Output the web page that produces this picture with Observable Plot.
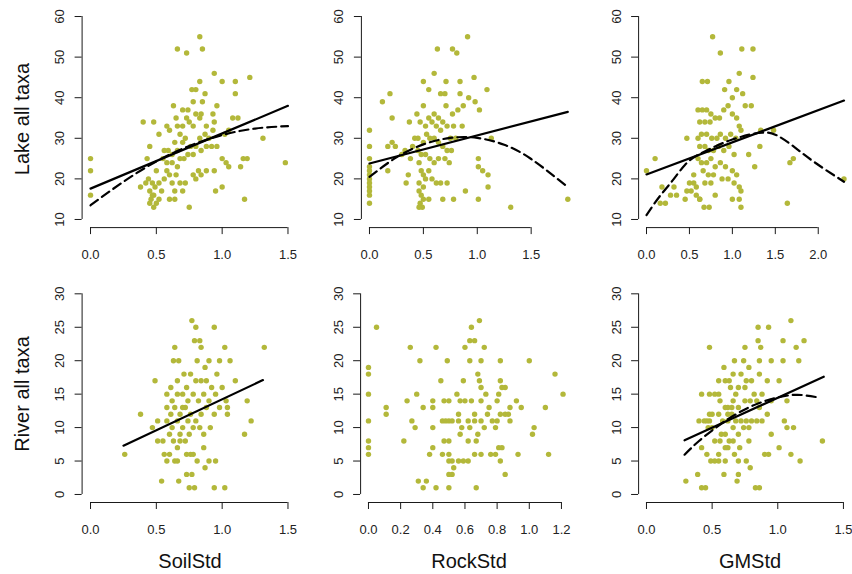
<!DOCTYPE html>
<html><head><meta charset="utf-8">
<script src="https://cdn.jsdelivr.net/npm/d3@7"></script>
<script src="https://cdn.jsdelivr.net/npm/@observablehq/plot@0.6"></script>
<style>
body{margin:0;background:#fff;}
#wrap{position:relative;width:852px;height:574px;overflow:hidden;font-family:"Liberation Sans",Arial,sans-serif;background:#fff;}
#wrap svg{position:absolute;left:0;top:0;}
.lab{position:absolute;font-size:20px;line-height:20px;color:#111;white-space:nowrap;}
</style></head><body><div id="wrap"></div>
<script>
// ---------- data ----------
const rowTitles = ["Lake all taxa", "River all taxa"];
const colTitles = ["SoilStd", "RockStd", "GMStd"];

const lakeYTicks = [10, 20, 30, 40, 50, 60];
const riverYTicks = [0, 5, 10, 15, 20, 25, 30];
const soilXTicks = [0, 0.5, 1.0, 1.5];
const rockLakeXTicks = [0, 0.5, 1.0, 1.5];
const gmLakeXTicks = [0, 0.5, 1.0, 1.5, 2.0];
const rockRiverXTicks = [0, 0.2, 0.4, 0.6, 0.8, 1.0, 1.2];
const gmRiverXTicks = [0, 0.5, 1.0, 1.5];

const soilLake = [[0,25],[0,22],[0,16],[0.83,55],[0.66,52],[0.73,51],[0.85,52],
[0.94,46],[1.0,44],[1.10,44],[1.21,45],[0.83,44],[0.77,42],[0.80,42],[0.87,41],[1.10,41],
[0.78,39],[0.85,39],[0.63,38],[0.96,38],[0.70,37],[0.74,37],[0.80,36],[0.84,36],[0.93,36],
[0.40,34],[0.48,34],[0.65,35],[0.73,35],[0.83,35],[1.08,35],[1.12,35],
[0.58,33],[0.66,33],[0.70,33],[0.75,34],[0.78,33],[0.94,34],[0.88,33],
[0.52,31],[0.60,32],[0.68,31],[0.87,31],[0.90,30],[0.93,32],[1.02,31],[1.05,32],[1.31,30],
[0.45,28],[0.56,27],[0.59,27],[0.64,29],[0.70,29],[0.72,30],[0.76,28],[0.80,28],[0.88,28],[0.92,28],[0.96,28],[0.83,30],
[0.62,26],[0.66,27],[0.74,26],[0.71,25],[0.78,26],[0.84,27],[1.48,24],
[0.43,25],[0.58,24],[0.62,24],[0.66,23],[0.68,25],[0.55,25],[0.50,22],
[1.0,25],[1.03,24],[1.05,23],[1.16,25],[1.19,25],[1.14,23],[0.94,22],
[0.42,19],[0.47,19],[0.49,18],[0.52,19],[0.56,20],[0.60,21],[0.62,19],[0.68,19],[0.72,19],[0.70,17],[0.80,20],[0.82,22],[0.84,21],[0.78,21],[0.88,22],
[0.38,18],[0.45,17],[0.47,16],[0.54,17],[0.64,17],[0.95,17],[1.0,18],
[0.45,14],[0.48,13],[0.50,14],[0.46,15],[0.52,15],[0.48,16],[0.60,15],[0.64,15],[0.75,13],[1.17,15],
[0.44,20],[0.58,22],[0.65,21]];

const rockLake = [[0,32],[0,28],[0,25],[0,23],[0,21],[0,19],[0,18],[0,17],[0,16],[0,14],[0,22],[0,20],
[0.12,39],[0.19,41],[0.21,35],[0.17,28],[0.21,29],[0.17,22],[0.24,28],
[0.33,27],[0.37,34],[0.44,36],[0.36,21],[0.34,19],[0.30,26],[0.40,28],[0.42,30],[0.38,25],
[0.50,44],[0.55,42],[0.60,46],[0.63,52],[0.77,52],[0.81,51],[0.91,55],
[0.71,44],[0.84,44],[0.97,45],[1.09,42],[0.98,39],[1.02,37],
[0.66,41],[0.70,41],[0.84,41],[0.87,38],[0.92,40],[0.77,36],[0.82,37],[0.86,33],[0.71,38],
[0.50,38],[0.47,34],[0.52,33],[0.55,35],[0.58,34],[0.60,36],[0.62,33],[0.64,35],[0.66,32],[0.68,34],[0.72,33],[0.75,30],[0.78,33],
[0.45,30],[0.50,29],[0.53,31],[0.56,30],[0.60,30],[0.64,29],[0.68,28],[0.72,27],[0.76,27],[0.80,30],
[0.45,27],[0.48,26],[0.52,26],[0.56,25],[0.60,24],[0.64,25],[0.70,25],[0.74,24],
[0.46,24],[0.48,22],[0.50,21],[0.52,20],[0.55,22],[0.58,20],[0.62,19],[0.66,19],[0.72,19],[0.46,19],
[0.46,17],[0.48,16],[0.50,15],[0.47,14],[0.49,13],[0.46,13],[0.50,18],[0.55,15],[0.68,15],[0.78,15],[0.89,17],
[1.13,30],[1.01,25],[1.01,23],[1.05,22],[1.10,21],[1.10,18],[1.01,15],[1.31,13],[1.84,15]];

const gmLake = [[0,22],[0.10,25],[0.18,18],[0.16,14],[0.22,14],[0.28,16],[0.35,16],[0.32,18],[0.45,15],[0.47,17],[0.50,19],[0.55,19],[0.55,21],[0.52,17],[0.58,18],[0.58,16],[0.62,15],[0.47,30],
[0.65,44],[0.71,44],[0.77,55],[0.86,51],[1.11,52],[1.24,52],[1.08,46],[1.24,45],[0.91,42],[0.96,44],[1.0,40],[1.12,41],[1.15,38],[1.22,38],[1.05,42],
[0.60,37],[0.65,37],[0.70,37],[0.75,36],[0.62,34],[0.68,34],[0.74,34],[0.80,35],[0.85,35],[0.90,37],[0.95,38],[1.0,36],[1.05,35],[1.08,33],[1.10,32],
[0.60,30],[0.64,31],[0.70,31],[0.76,30],[0.82,30],[0.86,31],[0.92,30],[0.98,31],[1.04,30],
[0.62,28],[0.68,28],[0.72,27],[0.78,27],[0.84,28],[0.90,27],[0.96,28],[1.02,26],[1.33,32],[1.32,28],[1.19,26],[1.26,23],[1.48,32],
[0.60,25],[0.64,24],[0.70,24],[0.75,25],[0.80,23],[0.86,24],[0.92,23],[1.0,22],[1.05,21],[0.66,22],[0.72,21],[0.78,21],[0.88,20],[0.95,20],[1.02,19],[0.68,19],[0.75,19],[1.08,18],[1.10,17],
[0.67,13],[0.73,13],[0.62,15],[1.0,15],[1.08,15],[1.10,13],[0.80,16],[1.67,24],[1.71,25],[1.64,14],[2.30,20]];

const soilRiver = [[0.26,6],[0.38,12],[0.49,17],[0.47,10],[0.51,11],[0.51,8],[0.55,8],[0.54,2],
[0.64,22],[0.63,20],[0.67,20],[0.77,26],[0.80,25],[0.79,23],[0.83,23],[0.84,22],[0.94,25],[1.02,22],[1.32,22],
[0.81,20],[0.90,20],[0.98,20],[1.06,20],[0.87,19],[0.71,18],[0.76,18],[0.96,18],[1.10,17],[0.66,17],[0.80,17],[0.84,17],[0.92,16],
[1.19,14],[1.04,13],[1.04,12],[1.22,11],[1.17,9],[0.91,10],
[0.87,4],[0.90,5],[0.95,5],[0.94,1],[1.02,1],[0.75,1],[0.79,1],[0.73,3],[0.77,3],[0.67,2],
[0.58,5],[0.64,5],[0.66,5],[0.56,6],[0.60,6],[0.73,6],[0.76,6],[0.78,6],[0.81,5],[0.86,7],[0.63,8],[0.68,8],[0.72,8],[0.66,7],
[0.58,15],[0.62,14],[0.66,15],[0.70,15],[0.74,14],[0.78,15],[0.82,14],[0.86,15],[0.90,14],[0.95,15],[1.0,16],[1.03,14],
[0.58,13],[0.61,12],[0.64,13],[0.68,12],[0.72,13],[0.76,12],[0.80,11],[0.84,12],[0.88,13],[0.94,12],[0.98,13],
[0.58,11],[0.62,10],[0.66,11],[0.70,10],[0.74,11],[0.78,10],[0.83,10],[0.60,9],[0.68,9],[0.75,9],[0.86,9],
[0.61,16],[0.73,16],[0.88,17],[0.70,13]];

const rockRiver = [[0,19],[0,18],[0,15],[0,11],[0,8],[0,7],[0,6],
[0.05,25],[0.11,13],[0.11,12],[0.22,8],[0.24,14],[0.26,22],[0.27,11],[0.29,10],[0.30,15],[0.32,20],[0.34,13],
[0.31,2],[0.36,2],[0.34,1],[0.42,1],[0.50,1],
[0.38,6],[0.40,7],[0.40,10],[0.40,13],[0.40,14],[0.42,22],[0.45,17],[0.49,20],
[0.47,14],[0.50,14],[0.46,11],[0.48,11],[0.50,11],[0.52,11],[0.47,8],[0.50,8],[0.46,6],[0.50,6],[0.50,5],[0.52,5],[0.53,4],[0.52,3],[0.50,3],
[0.55,15],[0.56,12],[0.57,9],[0.56,5],[0.59,5],[0.62,5],[0.59,17],[0.63,20],[0.60,22],[0.64,25],[0.69,26],[0.63,23],[0.66,23],[0.72,22],[0.70,20],
[0.68,18],[0.69,17],[0.70,16],[0.64,14],[0.70,14],[0.66,12],[0.56,11],[0.62,11],[0.66,11],[0.70,11],[0.58,10],[0.63,10],[0.62,8],[0.67,8],[0.66,6],[0.70,6],[0.67,1],[0.68,9],[0.72,10],
[0.73,15],[0.75,13],[0.76,6],[0.79,6],[0.81,7],[0.83,7],[0.82,5],[0.85,3],[0.79,10],[0.80,11],[0.82,12],[0.80,14],[0.81,15],[0.83,16],[0.85,16],[0.82,17],[0.82,20],
[0.85,12],[0.87,12],[0.88,11],[0.88,13],[0.92,14],[0.95,13],[0.93,6],[1.03,10],[1.02,9],[1.00,20],[1.10,13],[1.12,6],[1.16,18],[1.21,15],
[0.60,14],[0.74,12],[0.77,11],[0.57,14]];

const gmRiver = [[0.30,2],[0.39,3],[0.42,1],[0.45,1],[0.42,7],[0.42,15],[0.48,22],
[0.40,11],[0.44,11],[0.46,11],[0.48,11],[0.47,10],[0.50,10],[0.48,12],[0.50,12],[0.48,15],[0.52,15],[0.55,15],
[0.49,5],[0.52,5],[0.55,5],[0.60,5],[0.46,6],[0.55,6],[0.59,3],[0.59,19],[0.55,17],[0.60,17],[0.63,17],
[0.62,13],[0.65,13],[0.62,12],[0.65,12],[0.63,8],[0.66,8],[0.62,7],[0.67,6],[0.70,3],[0.69,2],[0.70,5],[0.79,4],[0.76,5],
[0.67,20],[0.74,20],[0.75,22],[0.72,18],[0.70,16],[0.75,16],[0.75,14],[0.79,14],[0.85,25],[0.93,25],[0.85,23],[0.87,22],[0.86,20],[0.95,20],[0.86,18],[0.92,17],
[0.82,15],[0.84,14],[0.90,6],[0.93,6],[0.83,1],[0.86,1],[0.95,9],[1.04,20],[1.04,23],[1.01,17],[1.10,26],[1.14,22],[1.20,23],[1.16,20],[1.07,14],
[1.05,11],[1.07,10],[1.12,10],[1.01,7],[1.10,6],[1.17,5],[1.34,8],[0.95,14],
[0.56,14],[0.60,13],[0.66,14],[0.70,13],[0.58,11],[0.62,11],[0.68,11],[0.72,11],[0.76,11],[0.80,11],[0.84,11],[0.88,11],[0.55,12],[0.57,9],[0.60,9],[0.66,10],[0.70,9],[0.74,10],[0.78,10],[0.56,8],[0.52,8],[0.60,7],[0.71,7],[0.78,8],[0.86,13],[0.92,12],[0.68,15],[0.76,17],[0.80,17],[0.88,15],[0.64,16],[0.66,18],[0.78,19]];

// fitted lines
const soilLakeLinX = [0, 1.5], soilLakeLinY = [17.6, 38.0];
const soilLakeQuadX = [0, 0.25, 0.5, 0.75, 1.0, 1.25, 1.5];
const soilLakeQuadY = [13.5, 19.3, 24.3, 28.1, 30.8, 32.4, 33.0];
const rockLakeLinX = [0, 1.84], rockLakeLinY = [23.8, 36.5];
const rockLakeQuadX = [0, 0.25, 0.5, 0.75, 1.0, 1.25, 1.5, 1.84];
const rockLakeQuadY = [20.5, 25.3, 28.5, 30.1, 30.1, 28.4, 24.9, 18.0];
const gmLakeLinX = [0, 2.3], gmLakeLinY = [21.1, 39.3];
const gmLakeQuadX = [0, 0.15, 0.3, 0.45, 0.6, 0.8, 1.0, 1.2, 1.35, 1.5, 1.7, 1.95, 2.3];
const gmLakeQuadY = [11.1, 15.6, 19.5, 23.5, 25.9, 28.0, 29.7, 30.9, 31.4, 30.9, 28.2, 24.2, 19.3];
const soilRiverLinX = [0.25, 1.31], soilRiverLinY = [7.3, 17.1];
const gmRiverLinX = [0.29, 1.35], gmRiverLinY = [8.1, 17.6];
const gmRiverQuadX = [0.29, 0.4, 0.55, 0.7, 0.85, 1.0, 1.15, 1.31];
const gmRiverQuadY = [5.95, 8.0, 10.3, 12.2, 13.6, 14.5, 14.9, 14.5];

// ---------- layout ----------
const W = 852, H = 574;
const rows = [
  {yDomain: [8, 62], top: 7.9, bottom: 227.1, yTicks: lakeYTicks},
  {yDomain: [-1.2, 31.2], top: 285.3, bottom: 502.0, yTicks: riverYTicks}
];
const panels = [
  {row: 0, pts: soilLake, xDomain: [-0.064, 1.564], left: 81.6, right: 295.9, xTicks: soilXTicks,
   lin: [soilLakeLinX, soilLakeLinY], quad: [soilLakeQuadX, soilLakeQuadY]},
  {row: 0, pts: rockLake, xDomain: [-0.075, 1.915], left: 360.9, right: 575.4, xTicks: rockLakeXTicks,
   lin: [rockLakeLinX, rockLakeLinY], quad: [rockLakeQuadX, rockLakeQuadY]},
  {row: 0, pts: gmLake, xDomain: [-0.092, 2.392], left: 638.1, right: 851.4, xTicks: gmLakeXTicks,
   lin: [gmLakeLinX, gmLakeLinY], quad: [gmLakeQuadX, gmLakeQuadY]},
  {row: 1, pts: soilRiver, xDomain: [-0.064, 1.564], left: 81.6, right: 295.9, xTicks: soilXTicks,
   lin: [soilRiverLinX, soilRiverLinY], quad: null},
  {row: 1, pts: rockRiver, xDomain: [-0.049, 1.27], left: 360.1, right: 572.2, xTicks: rockRiverXTicks,
   lin: null, quad: null},
  {row: 1, pts: gmRiver, xDomain: [-0.06, 1.56], left: 638.1, right: 850.8, xTicks: gmRiverXTicks,
   lin: [gmRiverLinX, gmRiverLinY], quad: [gmRiverQuadX, gmRiverQuadY]}
];

const wrap = document.getElementById("wrap");
const ink = "#1a1a1a";
const dotColor = "#b3b83a";
const fmt1 = d3.format(".1f");
const toXY = ([xs, ys]) => xs.map((x, i) => ({x, y: ys[i]}));

for (const p of panels) {
  const r = rows[p.row];
  const marks = [
    Plot.dot(p.pts, {x: d => d[0], y: d => d[1], r: 2.7, fill: dotColor}),
  ];
  if (p.lin) marks.push(Plot.line(toXY(p.lin), {x: "x", y: "y", stroke: "#000", strokeWidth: 2.2}));
  if (p.quad) marks.push(Plot.line(toXY(p.quad), {x: "x", y: "y", stroke: "#000", strokeWidth: 2.2, strokeDasharray: "9,5", curve: "natural"}));
  marks.push(
    Plot.ruleX([p.xDomain[0]], {y1: r.yTicks[0], y2: r.yTicks[r.yTicks.length - 1], stroke: ink}),
    Plot.ruleY([r.yDomain[0]], {x1: p.xTicks[0], x2: p.xTicks[p.xTicks.length - 1], stroke: ink}),
    Plot.axisY(r.yTicks, {anchor: "left", tickSize: 7, tickPadding: 11, tickRotate: -90, fontSize: 13, label: null, stroke: ink, fill: "#222"}),
    Plot.axisX(p.xTicks, {anchor: "bottom", tickSize: 7, tickPadding: 15, tickFormat: fmt1, fontSize: 13, label: null, stroke: ink, fill: "#222"})
  );
  const svg = Plot.plot({
    width: W, height: H,
    marginLeft: p.left, marginRight: W - p.right,
    marginTop: r.top, marginBottom: H - r.bottom,
    x: {domain: p.xDomain, axis: null},
    y: {domain: r.yDomain, axis: null},
    style: {fontFamily: '"Liberation Sans", Arial, sans-serif', background: "transparent", color: ink, overflow: "visible"},
    marks
  });
  wrap.appendChild(svg);
}

// axis titles
function addLabel(text, cx, cy, rotate) {
  const d = document.createElement("div");
  d.className = "lab";
  d.textContent = text;
  d.style.left = cx + "px";
  d.style.top = cy + "px";
  d.style.transform = "translate(-50%,-50%)" + (rotate ? " rotate(-90deg)" : "");
  wrap.appendChild(d);
}
addLabel(rowTitles[0], 22, 118.5, true);
addLabel(rowTitles[1], 22, 394, true);
addLabel(colTitles[0], 190, 561, false);
addLabel(colTitles[1], 469, 561, false);
addLabel(colTitles[2], 750, 561, false);
</script>
</body></html>
